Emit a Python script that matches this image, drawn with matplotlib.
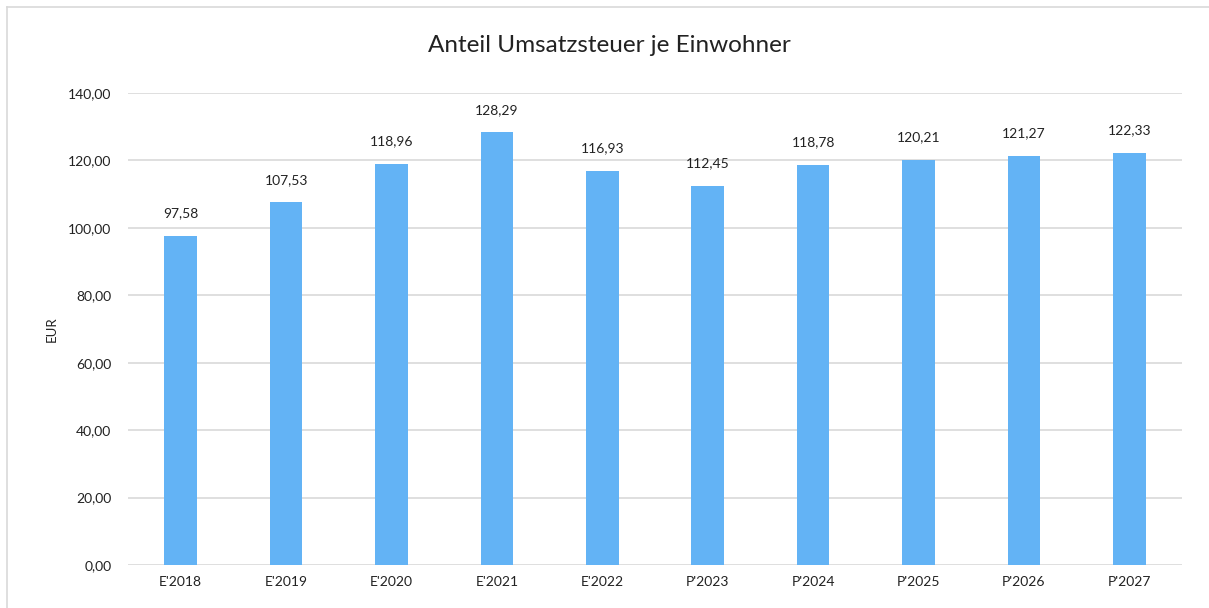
import matplotlib.pyplot as plt
from matplotlib.lines import Line2D

# Data.
years = ["E'2018", "E'2019", "E'2020", "E'2021", "E'2022",
         "P'2023", "P'2024", "P'2025", "P'2026", "P'2027"]
values = [97.58, 107.53, 118.96, 128.29, 116.93,
          112.45, 118.78, 120.21, 121.27, 122.33]

plt.rcParams['font.family'] = ['Lato', 'DejaVu Sans']

fig = plt.figure(figsize=(12.09, 6.08), dpi=100)
ax = fig.add_axes([128 / 1209, 1 - 565 / 608, (1182 - 128) / 1209, (565 - 93) / 608])

x = range(len(years))
bars = ax.bar(x, values, width=0.31, color="#63B3F5", zorder=3)

def de_fmt(v):
  return f"{v:.2f}".replace(".", ",")

for b, v in zip(bars, values):
  ax.annotate(de_fmt(v), (b.get_x() + b.get_width() / 2, v),
              xytext=(0, 12), textcoords="offset points",
              ha="center", va="bottom", fontsize=10, color="#222222")

ax.set_xlim(-0.5, len(years) - 0.5)
ax.set_ylim(0, 140)
ax.set_yticks(range(0, 141, 20))
ax.set_yticklabels([de_fmt(t) for t in range(0, 141, 20)])
ax.set_xticks(list(x))
ax.set_xticklabels(years)
ax.tick_params(length=0, labelsize=10, colors="#222222", pad=8)
ax.tick_params(axis="y", pad=12)
ax.grid(axis="y", color="#D9D9D9", linewidth=1.2, zorder=0)
for s in ax.spines.values():
  s.set_visible(False)

ax.set_ylabel("EUR", fontsize=9.5, color="#222222")
ax.yaxis.set_label_coords((58 - 128) / 1054, 0.5)
fig.text(609 / 1209, 1 - 45 / 608, "Anteil Umsatzsteuer je Einwohner",
         ha="center", va="center", fontsize=17.5, color="#222222")

# chart border (top and left visible)
fig.add_artist(Line2D([7 / 1209, 7 / 1209], [0, 1 - 7 / 608],
                      transform=fig.transFigure, color="#D9D9D9", linewidth=1.2))
fig.add_artist(Line2D([7 / 1209, 1], [1 - 7 / 608, 1 - 7 / 608],
                      transform=fig.transFigure, color="#D9D9D9", linewidth=1.2))

fig.savefig("out.png", dpi=100)
